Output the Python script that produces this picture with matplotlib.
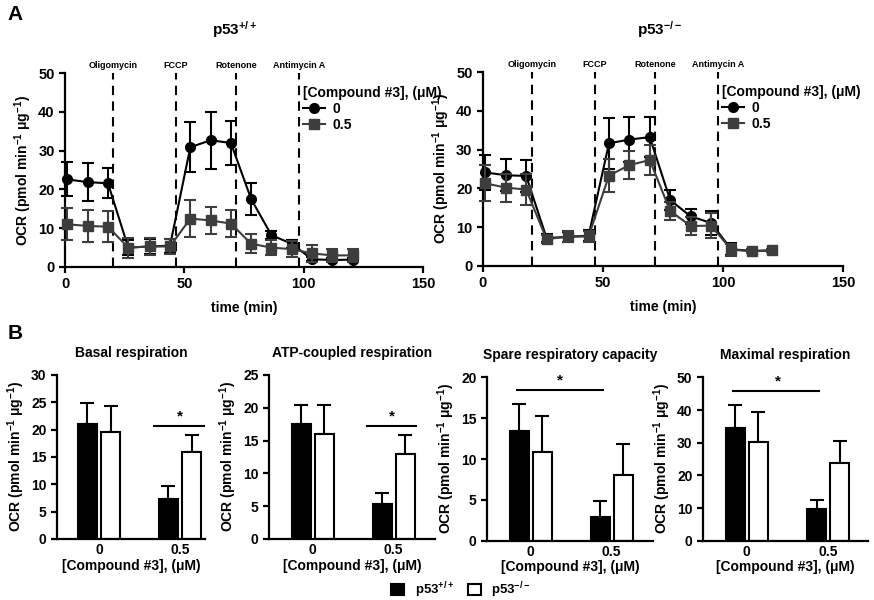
import numpy as np
import matplotlib
matplotlib.use("Agg")
import matplotlib.pyplot as plt
from matplotlib.lines import Line2D
from matplotlib.patches import Patch

plt.rcParams["font.family"] = ["Liberation Sans", "DejaVu Sans"]
plt.rcParams["font.weight"] = "bold"
plt.rcParams["axes.labelweight"] = "bold"
plt.rcParams["axes.titleweight"] = "bold"
plt.rcParams["mathtext.fontset"] = "custom"
plt.rcParams["mathtext.rm"] = "Liberation Sans:bold"
plt.rcParams["mathtext.it"] = "Liberation Sans:bold"
plt.rcParams["mathtext.bf"] = "Liberation Sans:bold"
plt.rcParams["mathtext.default"] = "rm"

# ── Panel A data: OCR time course ─────────────────────────────────────────────
TIME = [1, 9.5, 18, 26.5, 35.5, 44, 52.5, 61, 69.5, 78, 86.5, 95, 103.5, 112, 120.5]

WT_0      = [22.6, 21.9, 21.6, 5.0, 5.3, 5.5, 30.9, 32.7, 32.0, 17.5, 8.2, 6.0, 2.0, 1.8, 1.9]
WT_0_ERR  = [4.4, 4.9, 3.9, 2.0, 2.0, 1.8, 6.4, 7.3, 5.6, 4.2, 1.0, 1.0, 0.5, 0.4, 0.4]
WT_05     = [11.0, 10.6, 10.4, 5.0, 5.3, 5.3, 12.5, 12.0, 11.2, 6.0, 5.0, 4.6, 3.5, 3.0, 3.0]
WT_05_ERR = [4.1, 4.1, 4.0, 2.6, 2.3, 2.0, 4.8, 3.6, 3.5, 2.5, 1.9, 2.0, 2.2, 1.7, 1.7]

KO_0      = [24.1, 23.4, 23.2, 7.2, 7.5, 7.8, 31.6, 32.6, 33.2, 17.0, 12.8, 11.1, 4.3, 3.9, 4.0]
KO_0_ERR  = [4.5, 4.2, 4.2, 1.0, 1.2, 1.4, 6.5, 5.8, 5.2, 2.6, 2.0, 3.0, 1.5, 0.5, 0.5]
KO_05     = [21.3, 20.2, 19.7, 6.9, 7.6, 7.6, 23.3, 26.0, 27.3, 14.2, 10.3, 10.4, 4.2, 3.8, 4.0]
KO_05_ERR = [4.6, 3.6, 3.9, 1.0, 1.3, 1.5, 4.3, 3.7, 3.8, 2.3, 2.3, 3.2, 1.5, 0.5, 0.5]

INJECT_T     = [20.3, 46.5, 71.8, 98.0]
INJECT_NAMES = ["Oligomycin", "FCCP", "Rotenone", "Antimycin A"]

# ── Panel B data: derived parameters (p53+/+, p53-/-) at 0 and 0.5 uM ────────
DOSES = ["0", "0.5"]
B_TITLES = ["Basal respiration", "ATP-coupled respiration",
            "Spare respiratory capacity", "Maximal respiration"]
B_WT     = [[21.0, 7.4], [17.5, 5.3], [13.4, 2.9], [34.4, 9.8]]
B_WT_ERR = [[3.8, 2.3], [2.9, 1.7], [3.3, 1.9], [7.1, 2.5]]
B_KO     = [[19.5, 16.0], [16.0, 13.0], [10.9, 8.0], [30.3, 23.8]]
B_KO_ERR = [[4.8, 3.0], [4.4, 2.8], [4.4, 3.8], [9.0, 6.8]]
B_YMAX   = [30, 25, 20, 50]
B_YSTEP  = [5, 5, 5, 10]
# significance bar: (x start, x end, y, star x)
B_SIG    = [(0.68, 1.30, 20.6, 1.0), (0.67, 1.28, 17.2, 0.98),
            (-0.17, 0.89, 18.5, 0.36), (-0.17, 0.89, 45.9, 0.38)]

GRAY = "#3d3d3d"
YLAB = "OCR (pmol min$^{-1}$ μg$^{-1}$)"

fig = plt.figure(figsize=(8.74, 6), dpi=100)


def style_axes(ax, tick_size):
    for s in ("top", "right"):
        ax.spines[s].set_visible(False)
    for s in ("left", "bottom"):
        ax.spines[s].set_linewidth(1.6)
    ax.tick_params(width=1.6, length=4, labelsize=tick_size, direction="out")


def time_panel(rect, y0, e0, y05, e05, title, title_x):
    ax = fig.add_axes(rect)
    style_axes(ax, 10.5)
    for t, name in zip(INJECT_T, INJECT_NAMES):
        ax.plot([t, t], [0, 50], color="black", lw=1.5,
                ls=(0, (4.5, 3)), zorder=1, clip_on=False)
        ax.text(t, 50.8, name, ha="center", va="bottom", fontsize=6.5)
    ax.errorbar(TIME, y0, yerr=e0, fmt="-o", color="black", ms=7, lw=1.5,
                elinewidth=1.5, capsize=4.5, capthick=1.5, zorder=3,
                clip_on=False)
    ax.errorbar(TIME, y05, yerr=e05, fmt="-s", color=GRAY, ms=7, lw=1.5,
                elinewidth=1.5, capsize=4.5, capthick=1.5, zorder=4,
                clip_on=False)
    ax.set_xlim(0, 150)
    ax.set_ylim(0, 50)
    ax.set_xticks([0, 50, 100, 150])
    ax.set_yticks(range(0, 51, 10))
    ax.set_xlabel("time (min)", fontsize=10, labelpad=7)
    ax.set_ylabel(YLAB, fontsize=10, labelpad=3)
    handles = [Line2D([], [], color="black", marker="o", ms=7, lw=1.5),
               Line2D([], [], color=GRAY, marker="s", ms=7, lw=1.5)]
    ax.legend(handles, DOSES, title="[Compound #3], (μM)",
              loc="upper left", bbox_to_anchor=(0.645, 0.97),
              frameon=False, fontsize=10, title_fontsize=10,
              handlelength=1.6, handletextpad=0.5, labelspacing=0.15,
              borderpad=0, alignment="left")
    fig.text(title_x, 1 - 30 / 600, title, ha="center", va="center",
             fontsize=11)
    return ax


time_panel([0.0744, 0.555, 0.4096, 0.323], WT_0, WT_0_ERR, WT_05, WT_05_ERR,
           "p53$^{+/+}$", 235 / 874)
time_panel([0.5526, 0.5567, 0.4119, 0.3233], KO_0, KO_0_ERR, KO_05, KO_05_ERR,
           "p53$^{-/-}$", 660 / 874)

# ── Panel B bars ──────────────────────────────────────────────────────────────
bar_rects = [[0.0652, 0.1017, 0.1694, 0.2733],
             [0.3078, 0.1017, 0.1899, 0.2733],
             [0.5572, 0.0989, 0.1899, 0.2721],
             [0.8043, 0.0989, 0.1888, 0.2721]]
bar_xlims = [(-0.52, 1.31), (-0.54, 1.51), (-0.54, 1.51), (-0.54, 1.49)]
x = np.arange(len(DOSES))
off, w = 0.143, 0.235

for i, rect in enumerate(bar_rects):
    ax = fig.add_axes(rect)
    style_axes(ax, 10)
    wt, ko = np.array(B_WT[i]), np.array(B_KO[i])
    ax.bar(x - off, wt, w, color="black", edgecolor="black", lw=1.5, zorder=2)
    ax.bar(x + off, ko, w, color="white", edgecolor="black", lw=1.5, zorder=2)
    ax.errorbar(x - off, wt, yerr=[np.zeros(2), B_WT_ERR[i]], fmt="none",
                ecolor="black", elinewidth=1.5, capsize=5, capthick=1.5,
                zorder=1)
    ax.errorbar(x + off, ko, yerr=[np.zeros(2), B_KO_ERR[i]], fmt="none",
                ecolor="black", elinewidth=1.5, capsize=5, capthick=1.5,
                zorder=1)
    x1, x2, ys, xs = B_SIG[i]
    ax.plot([x1, x2], [ys, ys], color="black", lw=1.5, clip_on=False)
    ax.text(xs, ys + B_YMAX[i] * 0.015, "*", ha="center", va="bottom",
            fontsize=11)
    ax.set_xlim(*bar_xlims[i])
    ax.set_ylim(0, B_YMAX[i])
    ax.set_yticks(range(0, B_YMAX[i] + 1, B_YSTEP[i]))
    ax.set_xticks(x)
    ax.set_xticklabels(DOSES)
    ax.tick_params(axis="x", length=0, pad=3)
    ax.set_xlabel("[Compound #3], (μM)", fontsize=10, labelpad=1)
    ax.set_ylabel(YLAB, fontsize=10, labelpad=3)
    ax.set_title(B_TITLES[i], fontsize=10, pad=13)

fig.legend([Patch(facecolor="black", edgecolor="black", lw=1.5),
            Patch(facecolor="white", edgecolor="black", lw=1.5)],
           ["p53$^{+/+}$", "p53$^{-/-}$"], loc="center",
           bbox_to_anchor=(461 / 874, 1 - 590 / 600), ncol=2, frameon=False,
           fontsize=9.5, handlelength=1.0, handleheight=1.0,
           handletextpad=0.8, columnspacing=1.0)

fig.text(0.009, 1 - 15 / 600, "A", fontsize=15, va="center")
fig.text(0.009, 1 - 333 / 600, "B", fontsize=15, va="center")

fig.savefig("out.png", dpi=100)
